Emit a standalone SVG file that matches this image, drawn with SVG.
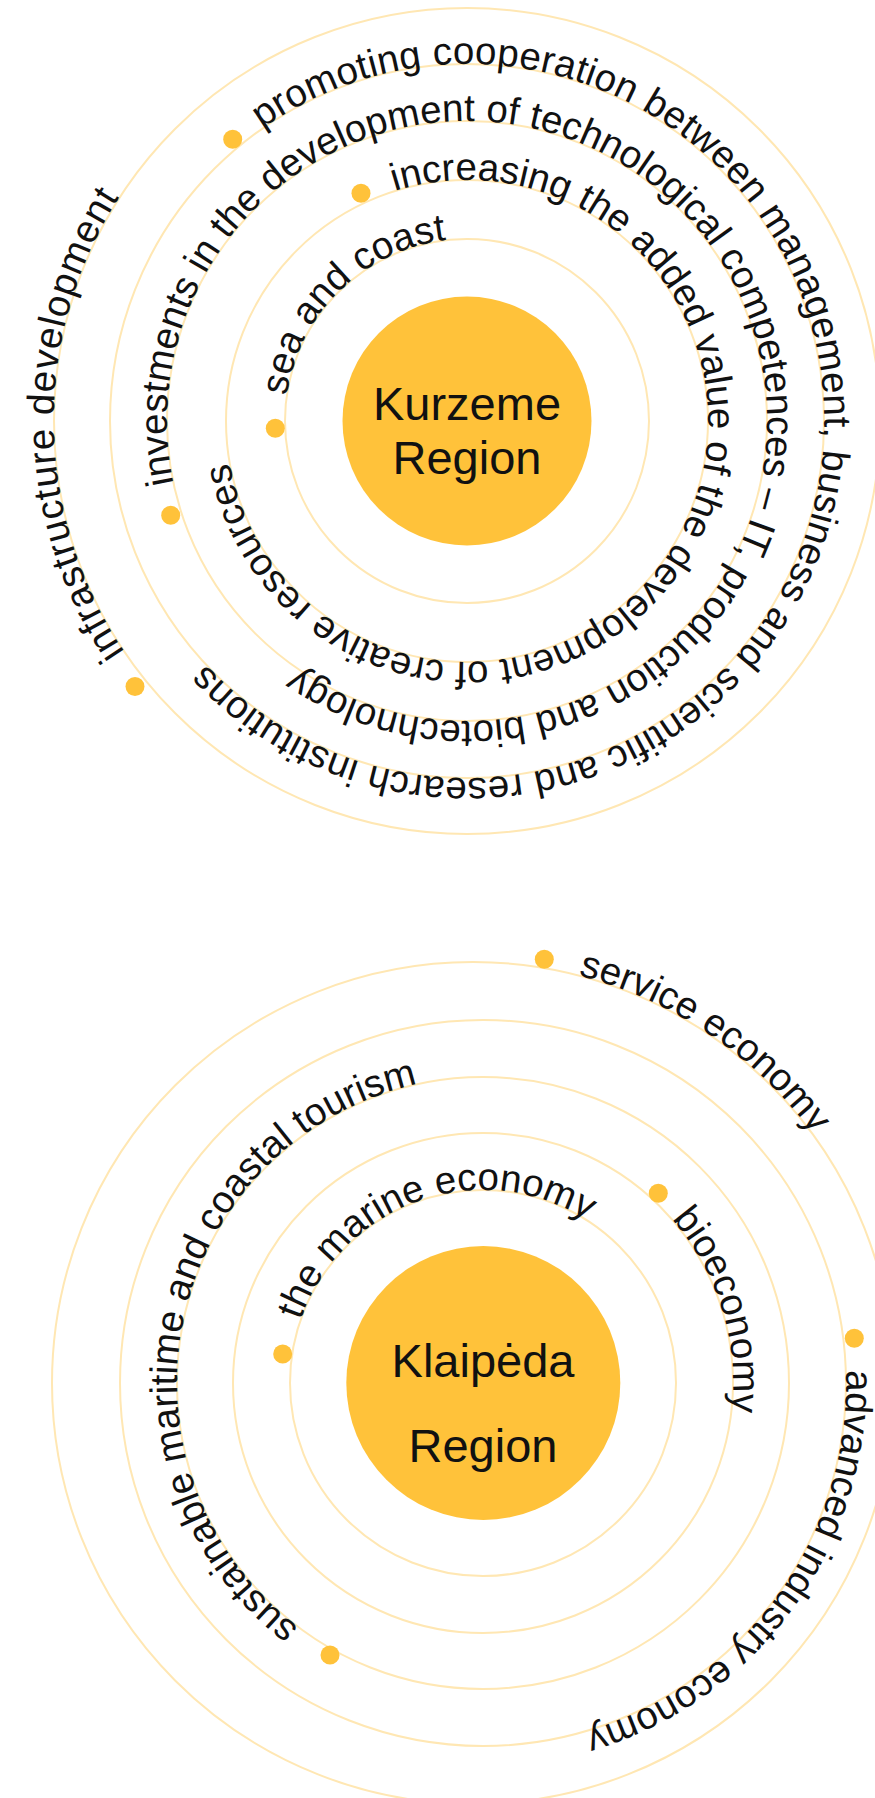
<svg xmlns="http://www.w3.org/2000/svg" xmlns:xlink="http://www.w3.org/1999/xlink" width="875" height="1798" viewBox="0 0 875 1798">
  <style>
    .ring { fill: none; stroke: #FFE7B3; stroke-width: 2; }
    .dot { fill: #FFC23A; }
    .hub { fill: #FFC23A; }
    .hubtext { font-family: "Liberation Sans", Arial, sans-serif; font-size: 47px; fill: #111111; text-anchor: middle; }
    .lbl { font-family: "Liberation Sans", Arial, sans-serif; font-size: 38.5px; fill: #111111; }
  </style>
  <defs>
    <path id="p-sea" d="M286.77,395.67 A182,182 0 1 1 647.23,446.33 A182,182 0 1 1 286.77,395.67"/>
    <path id="p-incr" d="M394.53,191.15 A241,241 0 1 1 539.47,650.85 A241,241 0 1 1 394.53,191.15"/>
    <path id="p-inv" d="M173.55,483.37 A300,300 0 1 1 760.45,358.63 A300,300 0 1 1 173.55,483.37"/>
    <path id="p-prom" d="M262.23,128.56 A357,357 0 1 1 671.77,713.44 A357,357 0 1 1 262.23,128.56"/>
    <path id="p-infra" d="M124.61,651.95 A413,413 0 1 1 809.39,190.05 A413,413 0 1 1 124.61,651.95"/>
    <path id="p-marine" d="M300.51,1320.16 A193,193 0 1 1 665.49,1445.84 A193,193 0 1 1 300.51,1320.16"/>
    <path id="p-bio" d="M671.68,1218.98 A250,250 0 1 1 294.32,1547.02 A250,250 0 1 1 671.68,1218.98"/>
    <path id="p-sust" d="M298.84,1627.38 A306,306 0 1 1 667.16,1138.62 A306,306 0 1 1 298.84,1627.38"/>
    <path id="p-adv" d="M845.78,1370.33 A363,363 0 1 1 120.22,1395.67 A363,363 0 1 1 845.78,1370.33"/>
    <path id="p-serv" d="M578.41,975.41 A421,421 0 1 1 367.59,1790.59 A421,421 0 1 1 578.41,975.41"/>
  </defs>
  <rect x="0" y="0" width="875" height="1798" fill="#FFFFFF"/>

  <g id="connectors">
    <g id="rings-kurzeme">
      <circle class="ring" cx="467" cy="421" r="182"/>
      <circle class="ring" cx="467" cy="421" r="241"/>
      <circle class="ring" cx="467" cy="421" r="300"/>
      <circle class="ring" cx="467" cy="421" r="357"/>
      <circle class="ring" cx="467" cy="421" r="413"/>
    </g>
    <g id="rings-klaipeda">
      <circle class="ring" cx="483" cy="1383" r="193"/>
      <circle class="ring" cx="483" cy="1383" r="250"/>
      <circle class="ring" cx="483" cy="1383" r="306"/>
      <circle class="ring" cx="483" cy="1383" r="363"/>
      <circle class="ring" cx="473" cy="1383" r="421"/>
    </g>
  </g>

  <g id="kurzeme-region">
    <circle class="hub" cx="467" cy="421" r="124.5"/>
    <text class="hubtext" x="467" y="420">Kurzeme</text>
    <text class="hubtext" x="467" y="474">Region</text>
  </g>
  <g id="k-sea">
    <circle class="dot" cx="275.3" cy="428.3" r="9.5"/>
    <text class="lbl"><textPath xlink:href="#p-sea" href="#p-sea">sea and coast</textPath></text>
  </g>
  <g id="k-increasing">
    <circle class="dot" cx="361" cy="193.3" r="9.5"/>
    <text class="lbl"><textPath xlink:href="#p-incr" href="#p-incr">increasing the added value of the development of creative resources</textPath></text>
  </g>
  <g id="k-investments">
    <circle class="dot" cx="170.7" cy="515.3" r="9.5"/>
    <text class="lbl"><textPath xlink:href="#p-inv" href="#p-inv">investments in the development of technological competences – IT, production and biotechnology</textPath></text>
  </g>
  <g id="k-promoting">
    <circle class="dot" cx="232.7" cy="139.3" r="9.5"/>
    <text class="lbl" letter-spacing="0.25"><textPath xlink:href="#p-prom" href="#p-prom">promoting cooperation between management, business and scientific and research institutions</textPath></text>
  </g>
  <g id="k-infrastructure">
    <circle class="dot" cx="135" cy="686.5" r="9.5"/>
    <text class="lbl" letter-spacing="1"><textPath xlink:href="#p-infra" href="#p-infra">infrastructure development</textPath></text>
  </g>

  <g id="klaipeda-region">
    <circle class="hub" cx="483.3" cy="1383" r="137"/>
    <text class="hubtext" x="483" y="1377">Klaipėda</text>
    <text class="hubtext" x="483" y="1462">Region</text>
  </g>
  <g id="kl-marine">
    <circle class="dot" cx="282.7" cy="1354" r="9.5"/>
    <text class="lbl"><textPath xlink:href="#p-marine" href="#p-marine">the marine economy</textPath></text>
  </g>
  <g id="kl-bio">
    <circle class="dot" cx="658.3" cy="1193.3" r="9.5"/>
    <text class="lbl"><textPath xlink:href="#p-bio" href="#p-bio">bioeconomy</textPath></text>
  </g>
  <g id="kl-sustainable">
    <circle class="dot" cx="330" cy="1655" r="9.5"/>
    <text class="lbl"><textPath xlink:href="#p-sust" href="#p-sust">sustainable maritime and coastal tourism</textPath></text>
  </g>
  <g id="kl-advanced">
    <circle class="dot" cx="854.3" cy="1338.3" r="9.5"/>
    <text class="lbl"><textPath xlink:href="#p-adv" href="#p-adv">advanced industry economy</textPath></text>
  </g>
  <g id="kl-service">
    <circle class="dot" cx="544.3" cy="959.3" r="9.5"/>
    <text class="lbl"><textPath xlink:href="#p-serv" href="#p-serv">service economy</textPath></text>
  </g>
</svg>
